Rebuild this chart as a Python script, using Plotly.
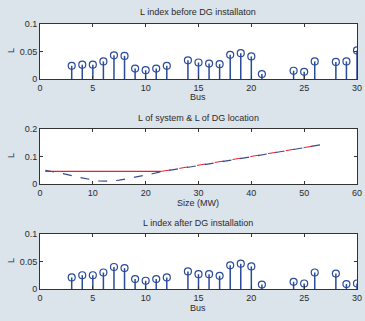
import plotly.graph_objects as go
from plotly.subplots import make_subplots

# Bus numbers and L index values (None = not plotted)
bus = list(range(1, 31))
l_before = [None, None, 0.024, 0.026, 0.026, 0.032, 0.043, 0.042, 0.019, 0.016,
            0.019, 0.024, None, 0.034, 0.030, 0.028, 0.027, 0.044, 0.047, 0.041,
            0.009, None, None, 0.015, 0.013, 0.032, None, 0.031, 0.032, 0.052]
l_after = [None, None, 0.021, 0.025, 0.025, 0.030, 0.040, 0.038, 0.018, 0.015,
           0.018, 0.021, None, 0.032, 0.027, 0.027, 0.024, 0.043, 0.046, 0.041,
           0.008, None, None, 0.013, 0.010, 0.030, None, 0.028, 0.009, 0.010]

# DG size sweep
size_mw = [1, 3, 5, 7, 9, 11, 13, 15, 17, 19, 21, 23, 25, 30, 35, 40, 45, 50, 53]
l_dg = [0.050, 0.043, 0.035, 0.026, 0.018, 0.011, 0.010, 0.014, 0.021, 0.028,
        0.036, 0.045, 0.052, 0.067, 0.083, 0.099, 0.115, 0.131, 0.142]
sys_size = [1, 23]
l_sys = [0.046, 0.046]
sys_rise_size = [23, 30, 40, 50, 53]
l_sys_rise = [0.046, 0.068, 0.100, 0.131, 0.142]

BLUE = "#2a4a9a"
RED = "#e8202a"
FONT = dict(family="Liberation Sans, Arial, sans-serif", size=9, color="#2b2b2b")

fig = make_subplots(rows=3, cols=1)


def stem(values, row):
    xs, ys = [], []
    for b, v in zip(bus, values):
        if v is None:
            continue
        xs += [b, b, None]
        ys += [0, v, None]
    fig.add_trace(go.Scatter(x=xs, y=ys, mode="lines",
                             line=dict(color=BLUE, width=1.5),
                             hoverinfo="skip"), row=row, col=1)
    fig.add_trace(go.Scatter(x=bus, y=values, mode="markers",
                             marker=dict(symbol="circle-open", size=7,
                                         color=BLUE, line=dict(width=1.2))),
                  row=row, col=1)


stem(l_before, 1)
stem(l_after, 3)

fig.add_trace(go.Scatter(x=sys_size, y=l_sys, mode="lines",
                         line=dict(color=RED, width=1.2)), row=2, col=1)
fig.add_trace(go.Scatter(x=sys_rise_size, y=l_sys_rise, mode="lines",
                         line=dict(color=RED, width=1, dash="dash")), row=2, col=1)
fig.add_trace(go.Scatter(x=size_mw, y=l_dg, mode="lines",
                         line=dict(color="#3a4a8a", width=1.2, dash="dash")), row=2, col=1)

xdom = [40 / 365, 357 / 365]
ydoms = [(24, 79), (129, 184), (234, 289)]

axis_style = dict(showline=True, linecolor="#333", linewidth=1, mirror="ticks",
                  ticks="inside", ticklen=3, tickcolor="#333", showgrid=False,
                  zeroline=False, tickfont=FONT, automargin=False)

for i, (top, bot) in enumerate(ydoms, start=1):
    sfx = "" if i == 1 else str(i)
    fig.layout["xaxis" + sfx].update(domain=xdom, **axis_style)
    fig.layout["yaxis" + sfx].update(domain=[1 - bot / 321, 1 - top / 321], **axis_style)

fig.update_xaxes(range=[0, 30], tickvals=[0, 5, 10, 15, 20, 25, 30], row=1, col=1)
fig.update_yaxes(range=[0, 0.1], tickvals=[0, 0.05, 0.1],
                 ticktext=["0", "0.05", "0.1"], row=1, col=1)
fig.update_xaxes(range=[0, 60], tickvals=[0, 10, 20, 30, 40, 50, 60], row=2, col=1)
fig.update_yaxes(range=[0, 0.2], tickvals=[0, 0.1, 0.2],
                 ticktext=["0", "0.1", "0.2"], row=2, col=1)
fig.update_xaxes(range=[0, 30], tickvals=[0, 5, 10, 15, 20, 25, 30], row=3, col=1)
fig.update_yaxes(range=[0, 0.1], tickvals=[0, 0.05, 0.1],
                 ticktext=["0", "0.05", "0.1"], row=3, col=1)

titles = [("L index before DG installaton", 12), ("L of system & L of DG location", 118),
          ("L index after DG installation", 223)]
xlabels = [("Bus", 97), ("Size (MW)", 203), ("Bus", 308)]
ylabel_y = [51, 156, 261]

for (t, ty), (xl, xy), ly in zip(titles, xlabels, ylabel_y):
    for txt, py, px_, ang in [(t, ty, 198, 0), (xl, xy, 198, 0), ("L", ly, 11, -90)]:
        fig.add_annotation(text=txt, x=px_ / 365, y=1 - py / 321,
                           xref="paper", yref="paper", xanchor="center", yanchor="middle",
                           showarrow=False, textangle=ang, font=FONT)

fig.update_layout(width=365, height=321, margin=dict(l=0, r=0, t=0, b=0, pad=0),
                  paper_bgcolor="#dbe3eb", plot_bgcolor="white", showlegend=False)

# drop the default page margin so the figure fills the window exactly
fig.write_html("out.html", config={"displayModeBar": False},
               post_script="document.body.style.margin='0';document.body.style.overflow='hidden';")
